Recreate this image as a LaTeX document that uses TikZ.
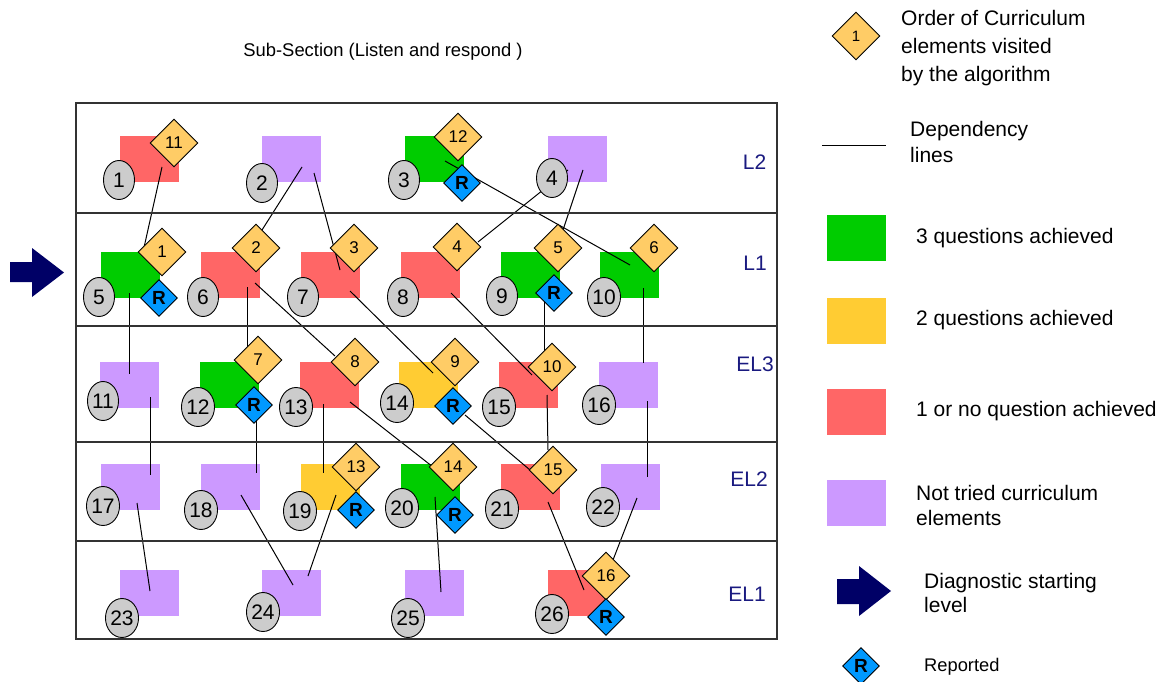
\documentclass[tikz,border=0pt]{standalone}
\usepackage{fontspec}
\setmainfont{Liberation Sans}
\usetikzlibrary{shapes.geometric,calc}
\definecolor{cRed}{HTML}{FF6666}
\definecolor{cPur}{HTML}{CC99FF}
\definecolor{cGrn}{HTML}{00CC00}
\definecolor{cYel}{HTML}{FFCC33}
\definecolor{cOrd}{HTML}{FFCC66}
\definecolor{cRep}{HTML}{0099FF}
\definecolor{cEll}{HTML}{CCCCCC}
\definecolor{cNavy}{HTML}{000066}
\definecolor{cLbl}{HTML}{1A1A80}
\definecolor{cBox}{HTML}{333333}
\pgfdeclarelayer{bg}
\pgfdeclarelayer{ln}
\pgfsetlayers{bg,ln,main}
\begin{document}
\begin{tikzpicture}[x=1pt,y=-1pt,
  sq/.style={rectangle,inner sep=0,minimum width=59pt,minimum height=46pt},
  ell/.style={ellipse,draw=black,line width=0.9pt,fill=cEll,inner sep=0,minimum width=31pt,minimum height=39pt,font=\fontsize{21}{21}\selectfont},
  ord/.style={diamond,draw=black,line width=0.9pt,fill=cOrd,inner sep=0,minimum width=48pt,minimum height=48pt,font=\fontsize{17}{17}\selectfont},
  rep/.style={diamond,draw=black,line width=0.9pt,fill=cRep,inner sep=0,minimum width=37pt,minimum height=37pt,font=\bfseries\fontsize{19}{19}\selectfont},
  dep/.style={line width=1pt,black},
  lvl/.style={text=cLbl,inner sep=0,font=\fontsize{21}{21}\selectfont},
  leg/.style={anchor=west,align=left,inner sep=0,font=\fontsize{21}{26}\selectfont},
  bigarrow/.style={fill=cNavy}]

\useasboundingbox (0,0) rectangle (1168,682);

% title
\node[inner sep=0,font=\fontsize{18.4}{20}\selectfont] (title) at (383,52) {Sub-Section (Listen and respond )};

% frame and rows
\draw[cBox,line width=1.4pt] (76,103) rectangle (777,639);
\coordinate (d1l) at (76,213); \coordinate (d1r) at (777,213);
\coordinate (d2l) at (76,326); \coordinate (d2r) at (777,326);
\coordinate (d3l) at (76,442); \coordinate (d3r) at (777,442);
\coordinate (d4l) at (76,541); \coordinate (d4r) at (777,541);
\draw[cBox,line width=1.2pt] (d1l) -- (d1r) (d2l) -- (d2r) (d3l) -- (d3r) (d4l) -- (d4r);

% level labels
\node[lvl] (lL2) at (754.5,162) {L2};
\node[lvl] (lL1) at (755,263) {L1};
\node[lvl] (lEL3) at (755,364) {EL3};
\node[lvl] (lEL2) at (749,479) {EL2};
\node[lvl] (lEL1) at (747,594) {EL1};

% starting arrow
\path[bigarrow] (10,262) -- (32,262) -- (32,248) -- (64,272.5) -- (32,297) -- (32,282) -- (10,282) -- cycle;

% squares
\begin{pgfonlayer}{bg}
\node[sq,fill=cRed] (s1) at (149.5,159) {};
\node[sq,fill=cPur] (s2) at (291.5,159) {};
\node[sq,fill=cGrn] (s3) at (434.5,159) {};
\node[sq,fill=cPur] (s4) at (577.5,159) {};
\node[sq,fill=cGrn] (s5) at (130.5,275) {};
\node[sq,fill=cRed] (s6) at (230.5,275) {};
\node[sq,fill=cRed] (s7) at (330.5,275) {};
\node[sq,fill=cRed] (s8) at (430.5,275) {};
\node[sq,fill=cGrn] (s9) at (530.5,275) {};
\node[sq,fill=cGrn] (s10) at (629.5,275) {};
\node[sq,fill=cPur] (s11) at (129.5,385) {};
\node[sq,fill=cGrn] (s12) at (229.5,385) {};
\node[sq,fill=cRed] (s13) at (329.5,385) {};
\node[sq,fill=cYel] (s14) at (428.5,385) {};
\node[sq,fill=cRed] (s15) at (528.5,385) {};
\node[sq,fill=cPur] (s16) at (628.5,385) {};
\node[sq,fill=cPur] (s17) at (130.5,487) {};
\node[sq,fill=cPur] (s18) at (230.5,487) {};
\node[sq,fill=cYel] (s19) at (330.5,487) {};
\node[sq,fill=cGrn] (s20) at (430.5,487) {};
\node[sq,fill=cRed] (s21) at (530.5,487) {};
\node[sq,fill=cPur] (s22) at (630.5,487) {};
\node[sq,fill=cPur] (s23) at (149.5,593) {};
\node[sq,fill=cPur] (s24) at (291.5,593) {};
\node[sq,fill=cPur] (s25) at (434.5,593) {};
\node[sq,fill=cRed] (s26) at (577.5,593) {};
\end{pgfonlayer}

% ellipses
\node[ell] (e1) at (119,180) {1};
\node[ell] (e2) at (262,183) {2};
\node[ell] (e3) at (404,180) {3};
\node[ell] (e4) at (552,178) {4};
\node[ell] (e5) at (99,297) {5};
\node[ell] (e6) at (203,297) {6};
\node[ell] (e7) at (303,297) {7};
\node[ell] (e8) at (403,297) {8};
\node[ell] (e9) at (502,296) {9};
\node[ell] (e10) at (604,297) {10};
\node[ell] (e11) at (103,401) {11};
\node[ell] (e12) at (198,407) {12};
\node[ell] (e13) at (296,407) {13};
\node[ell] (e14) at (397,403) {14};
\node[ell] (e15) at (499,407) {15};
\node[ell] (e16) at (599,405) {16};
\node[ell] (e17) at (103,506) {17};
\node[ell] (e18) at (201,510) {18};
\node[ell] (e19) at (300,511) {19};
\node[ell] (e20) at (402,508) {20};
\node[ell] (e21) at (502,509) {21};
\node[ell] (e22) at (603,507) {22};
\node[ell] (e23) at (122,618) {23};
\node[ell] (e24) at (263,612) {24};
\node[ell] (e25) at (408,618) {25};
\node[ell] (e26) at (552,614) {26};

% order diamonds
\node[ord] (o11) at (174,143) {11};
\node[ord] (o12) at (458,137) {12};
\node[ord] (o1) at (162,252) {1};
\node[ord] (o2) at (256,248) {2};
\node[ord] (o3) at (354,248) {3};
\node[ord] (o4) at (457,247) {4};
\node[ord] (o5) at (558,248) {5};
\node[ord] (o6) at (654,248) {6};
\node[ord] (o7) at (258,360) {7};
\node[ord] (o8) at (355,362) {8};
\node[ord] (o9) at (455,362) {9};
\node[ord] (o10) at (552,367) {10};
\node[ord] (o13) at (356,467) {13};
\node[ord] (o14) at (453,467) {14};
\node[ord] (o15) at (553,470) {15};
\node[ord] (o16) at (606,576) {16};

% reported diamonds
\node[rep] (r3) at (462,183) {R};
\node[rep] (r5) at (159,298) {R};
\node[rep] (r9) at (554,293) {R};
\node[rep] (r12) at (254,405) {R};
\node[rep] (r14) at (453,406) {R};
\node[rep] (r19) at (356,510) {R};
\node[rep] (r20) at (455,515) {R};
\node[rep] (r26) at (606,617) {R};

% dependency lines
\begin{pgfonlayer}{ln}
\draw[dep] ($(s1)+(12.5,8)$) -- ($(o1)+(-19,0)$);
\draw[dep] ($(s2)+(10.5,8)$) -- ($(o2)+(6,-18)$);
\draw[dep] ($(s2)+(22.5,14)$) -- ($(s7)+(9.5,-5)$);
\draw[dep] ($(s3)+(10.5,2)$) -- ($(s10)+(0.5,-10)$);
\draw[dep] ($(s4)+(-9.5,11)$) -- ($(o4)+(21,-5)$);
\draw[dep] ($(s4)+(5.5,11)$) -- ($(o5)+(5,-18)$);
\draw[dep] ($(s5)+(-1.5,18)$) -- ($(s11)+(-0.5,-11)$);
\draw[dep] ($(s6)+(16.5,12)$) -- ($(o7)+(-11,-12)$);
\draw[dep] ($(s6)+(24.5,8)$) -- ($(o8)+(-20,-6)$);
\draw[dep] ($(s7)+(19.5,16)$) -- ($(s14)+(4.5,-12)$);
\draw[dep] ($(s8)+(20.5,18)$) -- ($(s15)+(3.5,-10)$);
\draw[dep] ($(r9)+(-10,0)$) -- ($(o10)+(-8,-10)$);
\draw[dep] ($(s10)+(13.5,13)$) -- ($(s16)+(14.5,-22)$);
\draw[dep] ($(s11)+(20.5,12)$) -- ($(s17)+(19.5,-12)$);
\draw[dep] ($(r12)+(2,10)$) -- ($(s18)+(25.5,-14)$);
\draw[dep] ($(s13)+(-6.5,19)$) -- ($(s19)+(-7.5,-14)$);
\draw[dep] ($(s13)+(20.5,17)$) -- ($(o14)+(-20,0)$);
\draw[dep] ($(r14)+(12,9)$) -- ($(s21)+(-0.5,-17)$);
\draw[dep] ($(s15)+(18.5,10)$) -- ($(o15)+(-5,-20)$);
\draw[dep] ($(s16)+(18.5,16)$) -- ($(s22)+(16.5,-10)$);
\draw[dep] ($(s17)+(6.5,16)$) -- ($(s23)+(0.5,-2)$);
\draw[dep] ($(s18)+(10.5,8)$) -- ($(s24)+(1.5,-8)$);
\draw[dep] ($(s19)+(5.5,8)$) -- ($(s24)+(16.5,-17)$);
\draw[dep] ($(s20)+(4.5,10)$) -- ($(s25)+(6.5,-1)$);
\draw[dep] ($(s21)+(17.5,15)$) -- ($(s26)+(6.5,-3)$);
\draw[dep] ($(s22)+(6.5,11)$) -- ($(o16)+(7,-16)$);
\end{pgfonlayer}

% legend
\node[ord,font=\fontsize{15}{15}\selectfont] (lgO) at (856,36) {1};
\node[leg,font=\fontsize{21}{28}\selectfont] (lgOt) at (901,48) {Order of Curriculum\\elements visited\\by the algorithm};
\coordinate (lgDa) at (822,146);
\coordinate (lgDb) at (886,146);
\draw[dep] (lgDa) -- (lgDb);
\node[leg,font=\fontsize{21}{26}\selectfont] (lgDt) at (910,142) {Dependency\\lines};
\node[sq,fill=cGrn] (lgG) at (856.5,238) {};
\node[leg] (lgGt) at (916,238) {3 questions achieved};
\node[sq,fill=cYel] (lgY) at (856.5,321) {};
\node[leg] (lgYt) at (916,320) {2 questions achieved};
\node[sq,fill=cRed] (lgR) at (856.5,411.5) {};
\node[leg] (lgRt) at (916,411) {1 or no question achieved};
\node[sq,fill=cPur] (lgP) at (856.5,502.5) {};
\node[leg,font=\fontsize{21}{25}\selectfont] (lgPt) at (916,505.5) {Not tried curriculum\\elements};
\path[bigarrow] (837,579) -- (859,579) -- (859,566) -- (891,591) -- (859,616) -- (859,604) -- (837,604) -- cycle;
\node[leg,font=\fontsize{21}{24}\selectfont] (lgAt) at (924,593) {Diagnostic starting\\level};
\node[rep] (lgRep) at (861,666) {R};
\node[leg,font=\fontsize{18.3}{20}\selectfont] (lgRept) at (924,667) {Reported};
\end{tikzpicture}
\end{document}
